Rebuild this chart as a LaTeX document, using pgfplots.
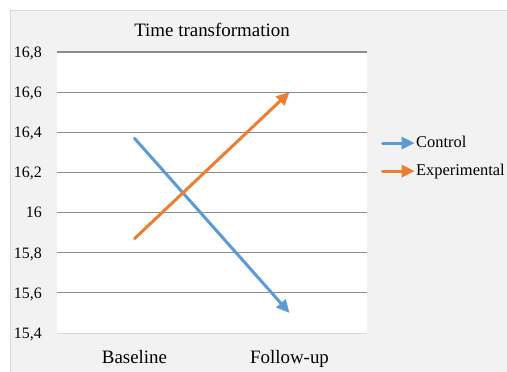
\documentclass[border=0pt]{standalone}
\usepackage{fontspec}
\setmainfont{Liberation Serif}
\usepackage{pgfplots}
\pgfplotsset{compat=1.18}
\usetikzlibrary{arrows.meta}
\definecolor{cblue}{HTML}{5B9BD5}
\definecolor{corange}{HTML}{ED7D31}
\definecolor{gridc}{HTML}{8C8C8C}
\definecolor{bgc}{HTML}{F2F2F2}
\definecolor{brd}{HTML}{D9D9D9}
\begin{document}
\begin{tikzpicture}
\useasboundingbox (0,0) rectangle (507bp,372bp);
\fill[white] (0,0) rectangle (507bp,372bp);
\fill[bgc] (10bp,0) rectangle (507bp,362bp);
\draw[brd,line width=1bp] (10.5bp,0) -- (10.5bp,361.5bp) -- (507bp,361.5bp);
\begin{axis}[
  at={(57bp,39bp)}, anchor=south west,
  scale only axis, width=310bp, height=281bp,
  xmin=-0.5, xmax=1.5, ymin=15.4, ymax=16.8,
  xtick={0,1}, xticklabels={Baseline,Follow-up},
  ytick={15.6,15.8,16,16.2,16.4,16.6,16.8},
  extra y ticks={15.4}, extra y tick style={grid=none},
  ymajorgrids, major grid style={gridc, line width=1.1bp},
  axis x line*=bottom, axis y line*=left,
  x axis line style={brd, line width=1bp, -},
  y axis line style={draw=none},
  major tick length=0pt,
  axis background/.style={fill=white},
  clip=false,
  /pgf/number format/assume math mode=true,
  /pgf/number format/use comma,
  /pgf/number format/fixed,
  /pgf/number format/precision=1,
  yticklabel style={font=\fontsize{16}{19}\selectfont, anchor=east, inner sep=0pt, text depth=0pt, xshift=-15bp},
  xticklabel style={font=\fontsize{19}{22}\selectfont, anchor=base, inner sep=0pt, yshift=-30bp},
  legend image code/.code={\draw[#1,line width=3bp,-{Triangle[length=13bp,width=12bp]}] (0bp,0bp) -- (32bp,0bp);},
  legend style={at={(1.045,0.626)}, anchor=west, draw=none, fill=none, inner sep=0pt,
    font=\fontsize{16.5}{19}\selectfont, row sep=12bp,
    nodes={inner sep=0pt, text height=12bp, text depth=4bp}},
  legend cell align=left,
]
\addplot[cblue, line width=3bp, line cap=round, -{Triangle[length=13bp,width=12bp]}] coordinates {(0,16.37) (1,15.50)};
\addlegendentry{Control}
\addplot[corange, line width=3bp, line cap=round, -{Triangle[length=13bp,width=12bp]}] coordinates {(0,15.87) (1,16.60)};
\addlegendentry{Experimental}
\end{axis}
\node[anchor=base, inner sep=0pt, font=\fontsize{19}{22}\selectfont] at (212bp,335bp) {Time transformation};
\end{tikzpicture}
\end{document}
